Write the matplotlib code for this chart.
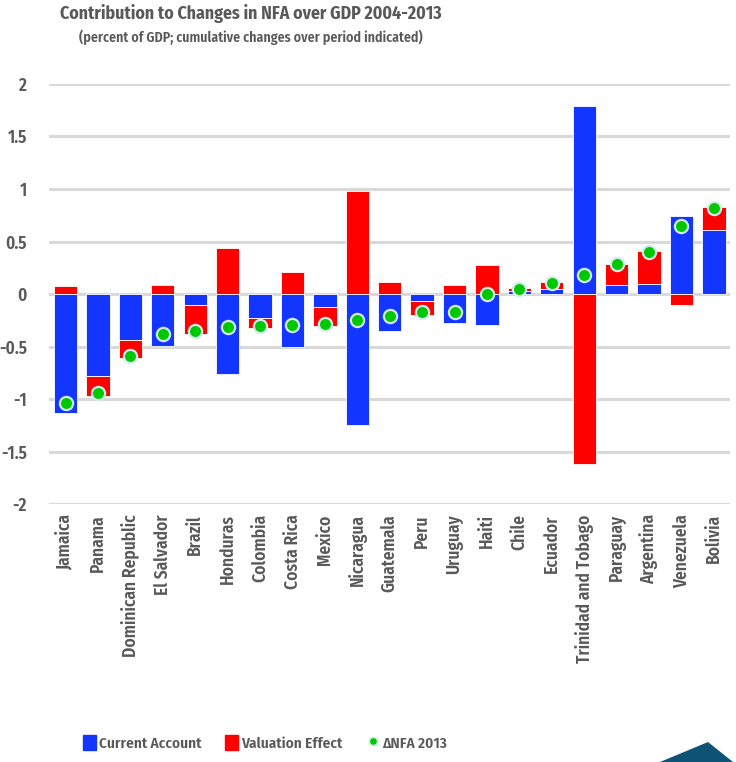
import matplotlib.pyplot as plt
import numpy as np
from matplotlib.patches import Polygon, Patch
from matplotlib.lines import Line2D

countries = ['Jamaica', 'Panama', 'Dominican Republic', 'El Salvador', 'Brazil',
             'Honduras', 'Colombia', 'Costa Rica', 'Mexico', 'Nicaragua',
             'Guatemala', 'Peru', 'Uruguay', 'Haiti', 'Chile', 'Ecuador',
             'Trinidad and Tobago', 'Paraguay', 'Argentina', 'Venezuela', 'Bolivia']
current_account = [-1.13, -0.78, -0.44, -0.49, -0.10, -0.76, -0.23, -0.50, -0.12, -1.24,
                   -0.35, -0.07, -0.27, -0.29, 0.03, 0.05, 1.79, 0.09, 0.10, 0.74, 0.61]
valuation = [0.08, -0.19, -0.17, 0.09, -0.28, 0.44, -0.09, 0.21, -0.18, 0.98,
             0.12, -0.13, 0.09, 0.28, 0.03, 0.07, -1.62, 0.20, 0.31, -0.10, 0.22]
delta_nfa = [-1.04, -0.94, -0.59, -0.38, -0.35, -0.31, -0.30, -0.29, -0.28, -0.25,
             -0.21, -0.17, -0.17, 0.00, 0.05, 0.11, 0.18, 0.29, 0.40, 0.65, 0.82]
yticks = [2, 1.5, 1, 0.5, 0, -0.5, -1, -1.5, -2]

BLUE = '#1236ff'
RED = '#ff0000'
GREEN = '#00c800'
GREY = '#595959'

plt.rcParams['font.family'] = ['Fira Sans Condensed', 'Liberation Sans Narrow', 'DejaVu Sans']
plt.rcParams['font.weight'] = 'semibold'

fig = plt.figure(figsize=(7.36, 7.62), dpi=100)
ax = fig.add_axes([0.067, 0.338, 0.925, 0.552])

x = np.arange(len(countries))
ca = np.array(current_account)
ve = np.array(valuation)
# same-sign pieces stack on each other, opposite signs both start at zero
ve_bottom = np.where(np.sign(ca) == np.sign(ve), ca, 0)

ax.bar(x, ca, width=0.72, color=BLUE, edgecolor='white', linewidth=0.6, zorder=2)
ax.bar(x, ve, bottom=ve_bottom, width=0.72, color=RED, edgecolor='white',
       linewidth=0.6, zorder=2)
ax.plot(x, delta_nfa, 'o', color=GREEN, markersize=9.5, markeredgecolor='#d2ecec',
        markeredgewidth=1.6, zorder=3)

ax.set_xlim(-0.5, len(countries) - 0.5)
ax.set_ylim(-2, 2)
ax.set_yticks(yticks)
ax.set_yticklabels([f'{t:g}' for t in yticks], fontsize=12.5, color=GREY)
ax.yaxis.grid(True, color='#d9d9d9', linewidth=2.2, zorder=0)
ax.set_axisbelow(True)
ax.set_xticks(x)
ax.set_xticklabels(countries, rotation=90, fontsize=12.5, color=GREY)
ax.tick_params(length=0, pad=7)
ax.tick_params(axis='y', pad=16)
for s in ax.spines.values():
    s.set_visible(False)

fig.text(0.341, 0.982, 'Contribution to Changes in NFA over GDP 2004-2013',
         ha='center', va='center', fontsize=12.8, fontweight='bold', color=GREY)
fig.text(0.341, 0.951, '(percent of GDP; cumulative changes over period indicated)',
         ha='center', va='center', fontsize=10, color=GREY)

handles = [Patch(color=BLUE), Patch(color=RED),
           Line2D([], [], marker='o', linestyle='', color=GREEN, markersize=6,
                  markeredgecolor='#d2ecec', markeredgewidth=1.2)]
fig.legend(handles, ['Current Account', 'Valuation Effect', '\u0394NFA 2013'],
           loc='center', bbox_to_anchor=(0.36, 0.025), ncol=3, frameon=False,
           fontsize=11, labelcolor=GREY, handlelength=0.85, handleheight=1.1,
           handletextpad=0.15, columnspacing=1.6)

# corner swoosh
fig.patches.append(Polygon([(660, 0), (708, 20), (733, 0)], closed=True,
                           transform=None, facecolor='#0e5275', edgecolor='none'))

fig.savefig('out.png', dpi=100)
